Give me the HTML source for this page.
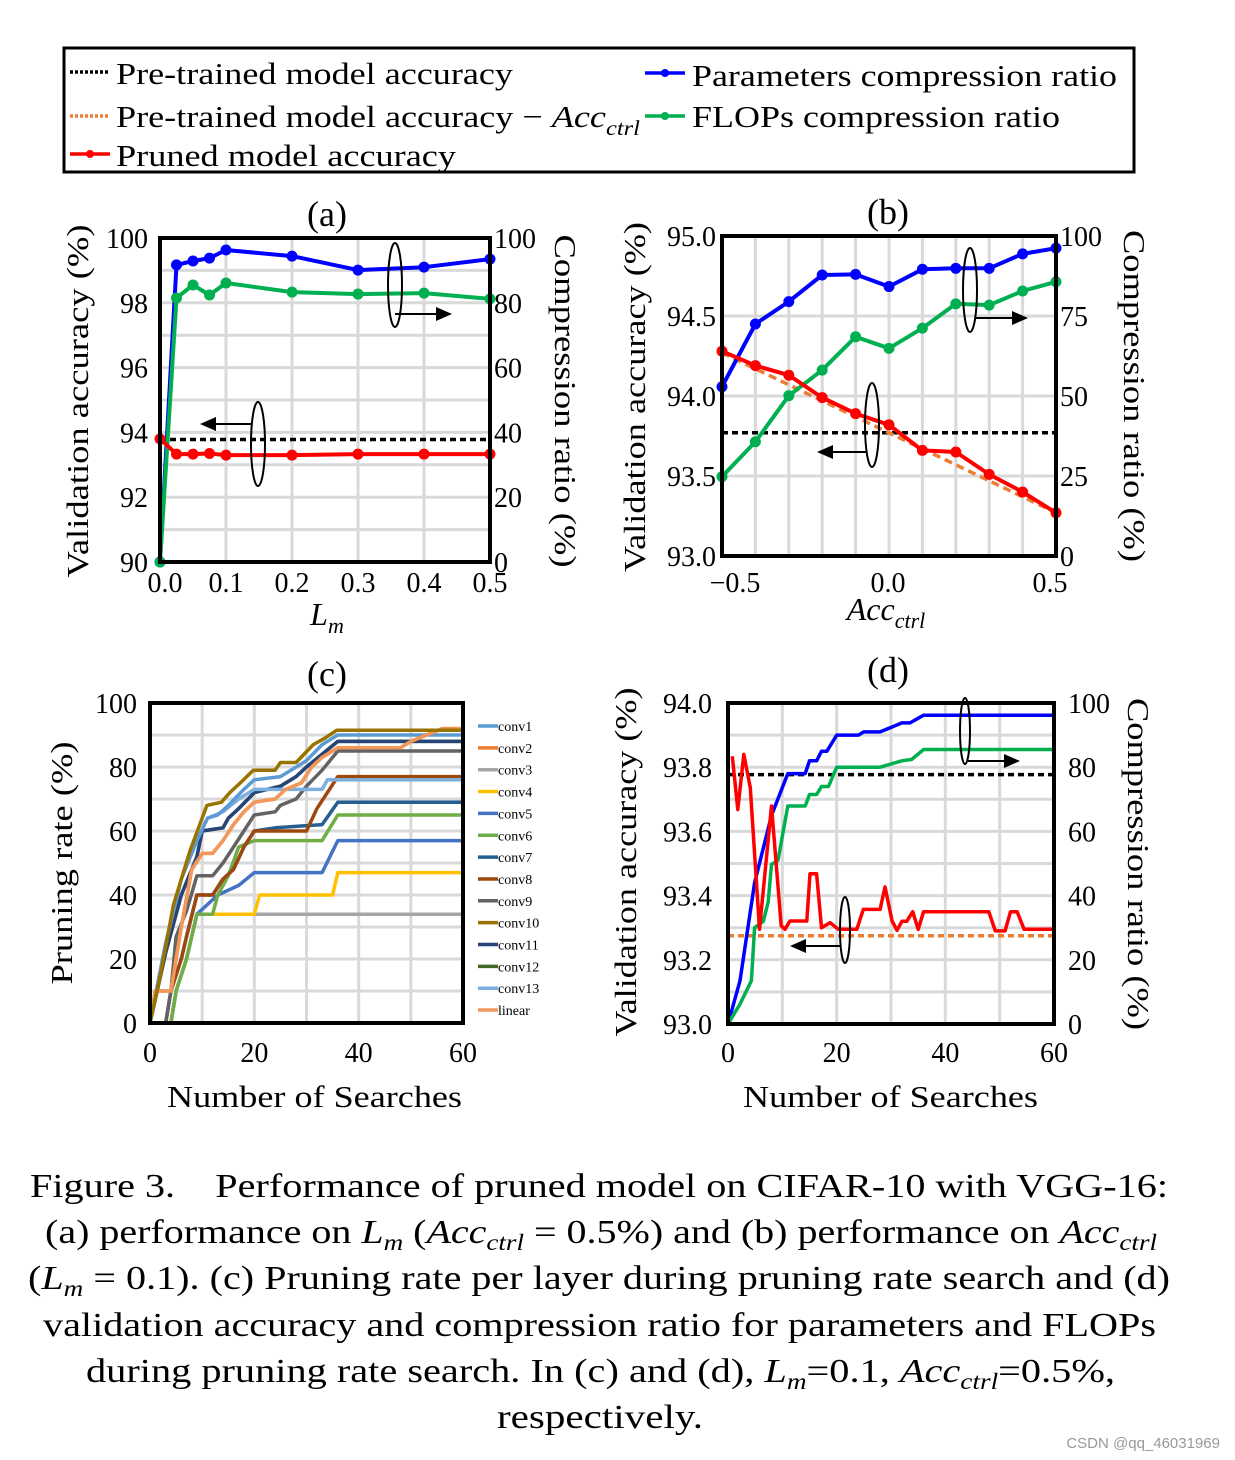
<!DOCTYPE html>
<html><head><meta charset="utf-8"><style>
html,body{margin:0;padding:0;background:#fff;}
svg{display:block;font-family:"Liberation Serif",serif;}
</style></head><body>
<svg id="fig" width="1235" height="1460" viewBox="0 0 1235 1460" xmlns="http://www.w3.org/2000/svg">
<g>
<rect x="64" y="48" width="1070" height="124" fill="#fff" stroke="#000" stroke-width="3"/>
<line x1="70" y1="72" x2="110" y2="72" stroke="#000" stroke-width="3.5" stroke-dasharray="3,2"/>
<text x="116" y="84" font-size="31" textLength="397" lengthAdjust="spacingAndGlyphs">Pre-trained model accuracy</text>
<line x1="70" y1="116" x2="110" y2="116" stroke="#ed7d31" stroke-width="3.5" stroke-dasharray="3,2"/>
<text x="116" y="127" font-size="31" textLength="524" lengthAdjust="spacingAndGlyphs">Pre-trained model accuracy − <tspan font-style="italic">Acc</tspan><tspan font-style="italic" font-size="21" dy="8">ctrl</tspan></text>
<line x1="70" y1="154" x2="110" y2="154" stroke="#f00" stroke-width="3.5"/><circle cx="90" cy="154" r="4" fill="#f00"/>
<text x="116" y="166" font-size="31" textLength="340" lengthAdjust="spacingAndGlyphs">Pruned model accuracy</text>
<line x1="645" y1="73" x2="685" y2="73" stroke="#00f" stroke-width="3.5"/><circle cx="665" cy="73" r="4" fill="#00f"/>
<text x="692" y="86" font-size="31" textLength="425" lengthAdjust="spacingAndGlyphs">Parameters compression ratio</text>
<line x1="645" y1="116" x2="685" y2="116" stroke="#00b050" stroke-width="3.5"/><circle cx="665" cy="116" r="4" fill="#00b050"/>
<text x="692" y="127" font-size="31" textLength="368" lengthAdjust="spacingAndGlyphs">FLOPs compression ratio</text>
</g>
<g id="ga"></g>
<g id="gb"></g>
<g id="gc"></g>
<g id="gd"></g>
<g font-size="34">
<text x="30" y="1197" textLength="1138" lengthAdjust="spacingAndGlyphs">Figure 3.&#160;&#160;&#160;&#160;Performance of pruned model on CIFAR-10 with VGG-16:</text>
<text x="45" y="1243" textLength="1112" lengthAdjust="spacingAndGlyphs">(a) performance on <tspan font-style="italic">L</tspan><tspan font-style="italic" font-size="23" dy="7">m</tspan><tspan dy="-7"> (</tspan><tspan font-style="italic">Acc</tspan><tspan font-style="italic" font-size="23" dy="7">ctrl</tspan><tspan dy="-7"> = 0.5%) and (b) performance on </tspan><tspan font-style="italic">Acc</tspan><tspan font-style="italic" font-size="23" dy="7">ctrl</tspan></text>
<text x="28" y="1289" textLength="1142" lengthAdjust="spacingAndGlyphs">(<tspan font-style="italic">L</tspan><tspan font-style="italic" font-size="23" dy="7">m</tspan><tspan dy="-7"> = 0.1). (c) Pruning rate per layer during pruning rate search and (d)</tspan></text>
<text x="43" y="1336" textLength="1113" lengthAdjust="spacingAndGlyphs">validation accuracy and compression ratio for parameters and FLOPs</text>
<text x="86" y="1382" textLength="1029" lengthAdjust="spacingAndGlyphs">during pruning rate search. In (c) and (d), <tspan font-style="italic">L</tspan><tspan font-style="italic" font-size="23" dy="7">m</tspan><tspan dy="-7">=0.1, </tspan><tspan font-style="italic">Acc</tspan><tspan font-style="italic" font-size="23" dy="7">ctrl</tspan><tspan dy="-7">=0.5%,</tspan></text>
<text x="497" y="1428" textLength="206" lengthAdjust="spacingAndGlyphs">respectively.</text>
</g>
<text x="1220" y="1448" font-size="15" fill="#999" text-anchor="end" font-family="Liberation Sans,sans-serif">CSDN @qq_46031969</text>
</svg>
<script>
// ---------- data ----------
const aX=[0,0.025,0.05,0.075,0.1,0.2,0.3,0.4,0.5];
const aParams=[0,91.7,92.9,93.8,96.3,94.4,90.1,91,93.5];
const aFlops=[0,81.5,85.5,82.4,86.1,83.3,82.7,83,81.2];
const aPruned=[93.8,93.33,93.33,93.35,93.3,93.3,93.33,93.33,93.33];
const aPre=93.78;
const bX=[-0.5,-0.4,-0.3,-0.2,-0.1,0,0.1,0.2,0.3,0.4,0.5];
const bParams=[52.9,72.5,79.5,87.8,88.0,84.2,89.6,89.9,89.9,94.4,96.2];
const bFlops=[24.8,35.7,50.1,58.1,68.5,64.9,71.2,78.8,78.4,82.8,85.7];
const bPruned=[94.28,94.19,94.13,93.99,93.89,93.82,93.66,93.65,93.51,93.40,93.27];
const bPre=93.77;
const cNames=["conv1","conv2","conv3","conv4","conv5","conv6","conv7","conv8","conv9","conv10","conv11","conv12","conv13","linear"];
const cColors=["#5b9bd5","#ed7d31","#a5a5a5","#ffc000","#4472c4","#70ad47","#255e91","#9e480e","#636363","#997300","#264478","#43682b","#7cafdd","#f1975a"];
const cX=[
[0,3,6,9,11,13,15,18,20,25,27,30,33,36,60],
[0,1,4,6,8,10,12,14,16,18,20,24,26,29,31,33,36,48,50,53,56,60],
[0,4,5,7,9,12,60],
[0,4,5,7,9,12,20,21,35,36,60],
[0,4,5,7,9,13,17,20,33,36,60],
[0,4,5,7,9,12,13,15,17,20,33,36,60],
[0,3,4,6,7,9,12,14,16,18,20,24,33,36,60],
[0,3,4,6,7,9,12,14,16,18,20,30,32,34,36,60],
[0,3,4,5,7,9,12,14,16,18,20,24,25,28,30,33,36,60],
[0,2,4.5,7.7,10.9,13.7,15.3,17.3,19.8,24,25,28,31.3,33.5,35.8,60],
[0,3,6,9,10,14,15,17,20,25,28,30,33,36,60],
[0,3,6,9,10,14,15,17,20,25,28,30,33,36,60],
[0,3,6,9,11,14,17,20,33,34,60],
[0,1,4,6,8,10,12,14,16,18,20,24,26,29,31,33,36,48,50,53,56,60]];
const cY=[
[0,25,45,57,64,65,68,73,76,77,79,82,87,90,90],
[0,10,10,30,48,53,53,57,62,66,69,70,73,75,80,83,86,86,88,90,92,92],
[0,0,10,20,34,34,34],
[0,0,10,20,34,34,34,40,40,47,47],
[0,0,10,20,34,40,43,47,47,57,57],
[0,0,10,20,34,34,40,46,55,57,57,65,65],
[0,0,10,20,27,40,40,45,48,55,60,61,62,69,69],
[0,0,10,20,27,40,40,45,48,55,60,60,67,72,77,77],
[0,0,10,27,35,46,46,50,55,60,65,66,68,70,74,79,85,85],
[0,15,37,54,68,69,72,75,79,79,81.4,81.4,87,89,91.5,91.5],
[0,22,40,52,60,61,64,67,72,74,77,80,84,88,88],
[0,22,40,52,60,61,64,67,72,74,77,80,84,88,88],
[0,25,45,57,64,66,70,73,73,76,76],
[0,10,10,30,48,53,53,57,62,66,69,70,73,75,80,83,86,86,88,90,92,92]];
const dParamsX=[0,2.2,4.9,8,11,14.2,15,16.3,17.2,18.2,20,24,25,28,32,33.5,36,60];
const dParamsY=[0,13.5,44,65,78,78,82,82,85,85,90,90,91,91,93.8,93.8,96.2,96.2];
const dFlopsX=[0,2.2,4.3,4.9,6.5,7.4,8,9.2,11,14.2,15,16.3,17.2,18.5,20,28,32,33.8,36,60];
const dFlopsY=[0,6.2,13.5,30,32,38,49.7,51,67.9,67.9,71.5,71.5,74,74,80,80,82,82.4,85.5,85.5];
const dAccX=[0.8,1.8,2.9,4.1,5.8,8,9.8,10.5,11.4,14.5,15.1,16.3,17.2,18.8,20.3,23.7,24.9,28,28.9,30.2,31.1,32,32.9,34,35,36,48,49.2,51,52,53.2,54.5,60];
const dAccY=[93.834,93.668,93.84,93.736,93.295,93.679,93.306,93.295,93.321,93.321,93.468,93.468,93.30,93.316,93.295,93.295,93.357,93.357,93.427,93.321,93.292,93.32,93.32,93.35,93.295,93.35,93.35,93.29,93.29,93.35,93.35,93.295,93.295];
const dPre=93.777, dCtrl=93.275;

// ---------- helpers ----------
const NS="http://www.w3.org/2000/svg";
function mk(parent,tag,attrs,text){const e=document.createElementNS(NS,tag);for(const k in attrs)e.setAttribute(k,attrs[k]);if(text!==undefined)e.textContent=text;parent.appendChild(e);return e;}
function lin(d0,d1,p0,p1){return v=>p0+(v-d0)/(d1-d0)*(p1-p0);}
function pathD(xs,ys,fx,fy){return xs.map((x,i)=>(i?"L":"M")+fx(x).toFixed(1)+","+fy(ys[i]).toFixed(1)).join("");}
function grid(g,x0,x1,y0,y1,vx,hy){
  vx.forEach(x=>{const l=mk(g,"line",{x1:x,x2:x,y1:y0,y2:y1,stroke:"#d9d9d9","stroke-width":3});
  
  });
  hy.forEach(y=>{const l=mk(g,"line",{x1:x0,x2:x1,y1:y,y2:y,stroke:"#d9d9d9","stroke-width":3});
  
  });
}
function frame(g,x0,y0,x1,y1){const r=mk(g,"rect",{x:x0,y:y0,width:x1-x0,height:y1-y0,fill:"none",stroke:"#000","stroke-width":4});

}
function series(g,xs,ys,fx,fy,color,w,markers,name,dash){
  const p=mk(g,"path",{d:pathD(xs,ys,fx,fy),fill:"none",stroke:color,"stroke-width":w,"stroke-linejoin":"round"});
  if(dash)p.setAttribute("stroke-dasharray",dash);
  
  
  if(markers)xs.forEach((x,i)=>{const c=mk(g,"circle",{cx:fx(x),cy:fy(ys[i]),r:5.5,fill:color});
  
  });
}
function txt(g,x,y,s,size,anchor,name){const t=mk(g,"text",{x:x,y:y,"font-size":size,"text-anchor":anchor||"middle"},s);

return t;}
function rot(g,x,y,s,size,angle,name,len){const t=mk(g,"text",{x:0,y:0,"font-size":size,"text-anchor":"middle",transform:`translate(${x},${y}) rotate(${angle})`},s);
if(len){t.setAttribute("textLength",len);t.setAttribute("lengthAdjust","spacingAndGlyphs");}

}
function ann(g,cx,cy,rx,ry,ax1,ax2,ay){
  const e=mk(g,"ellipse",{cx:cx,cy:cy,rx:rx,ry:ry,fill:"none",stroke:"#000","stroke-width":2});
  
  
  const dir=ax2>ax1?1:-1;
  const l=mk(g,"line",{x1:ax1,y1:ay,x2:ax2-dir*14,y2:ay,stroke:"#000","stroke-width":2});
  
  
  const h=mk(g,"polygon",{points:`${ax2},${ay} ${ax2-dir*16},${ay-7} ${ax2-dir*16},${ay+7}`,fill:"#000"});
  
  
}

// ---------- panel a ----------
(function(){
const g=document.getElementById("ga");
const X0=160,X1=490,Y0=238,Y1=562;
const fx=lin(0,0.5,X0,X1), fl=lin(90,100,Y1,Y0), fr=lin(0,100,Y1,Y0);
grid(g,X0,X1,Y0,Y1,[0.1,0.2,0.3,0.4].map(fx),[91,92,93,94,95,96,97,98,99].map(fl));
series(g,[0,0.5],[aPre,aPre],fx,fl,"#000",3.5,false,"pretrained-accuracy-line","6,4");
series(g,aX,aParams,fx,fr,"#0000ff",4,true,"params-compression-line");
series(g,aX,aFlops,fx,fr,"#00b050",4,true,"flops-compression-line");
series(g,aX,aPruned,fx,fl,"#ff0000",4,true,"pruned-accuracy-line");
frame(g,X0,Y0,X1,Y1);
ann(g,395,285,7,42,395,452,314);ann(g,258,444,7,42,252,200,424);
txt(g,327,226,"(a)",36,"middle","panel-a-title");
[90,92,94,96,98,100].forEach(v=>txt(g,148,fl(v)+10,String(v),28,"end","y-tick-left"));
[0,20,40,60,80,100].forEach(v=>txt(g,494,fr(v)+10,String(v),28,"start","y-tick-right"));
["0.0","0.1","0.2","0.3","0.4","0.5"].forEach((s,i)=>txt(g,fx(i*0.1)+(i==0?5:0),592,s,28,"middle","x-tick"));
const t=txt(g,327,625,"",32,"middle","x-axis-title");
mk(t,"tspan",{"font-style":"italic"},"L");mk(t,"tspan",{"font-style":"italic","font-size":22,dy:8},"m");
rot(g,88,401,"Validation accuracy (%)",31,-90,"y-axis-title-left",353);
rot(g,555,401,"Compression ratio (%)",31,90,"y-axis-title-right",333);
})();

// ---------- panel b ----------
(function(){
const g=document.getElementById("gb");
const X0=722,X1=1056,Y0=236,Y1=556;
const fx=lin(-0.5,0.5,X0,X1), fl=lin(93,95,Y1,Y0), fr=lin(0,100,Y1,Y0);
grid(g,X0,X1,Y0,Y1,[-0.4,-0.3,-0.2,-0.1,0,0.1,0.2,0.3,0.4].map(fx),[93.5,94,94.5].map(fl));
series(g,[-0.5,0.5],[bPre,bPre],fx,fl,"#000",3.5,false,"pretrained-accuracy-line","6,4");
series(g,[-0.5,0.5],[bPre+0.5,bPre-0.5],fx,fl,"#ed7d31",3.5,false,"pretrained-minus-ctrl-line","8,5");
series(g,bX,bParams,fx,fr,"#0000ff",4,true,"params-compression-line");
series(g,bX,bFlops,fx,fr,"#00b050",4,true,"flops-compression-line");
series(g,bX,bPruned,fx,fl,"#ff0000",4,true,"pruned-accuracy-line");
frame(g,X0,Y0,X1,Y1);
ann(g,970,290,7,42,975,1028,318);ann(g,872,425,7,42,867,817,452);
txt(g,888,224,"(b)",36,"middle","panel-b-title");
["93.0","93.5","94.0","94.5","95.0"].forEach((s,i)=>txt(g,716,fl(93+i*0.5)+10,s,28,"end","y-tick-left"));
[0,25,50,75,100].forEach(v=>txt(g,1060,fr(v)+10,String(v),28,"start","y-tick-right"));
txt(g,735,592,"−0.5",28,"middle","x-tick");txt(g,888,592,"0.0",28,"middle","x-tick");txt(g,1050,592,"0.5",28,"middle","x-tick");
const t=txt(g,886,620,"",32,"middle","x-axis-title");
mk(t,"tspan",{"font-style":"italic"},"Acc");mk(t,"tspan",{"font-style":"italic","font-size":22,dy:8},"ctrl");
rot(g,645,397,"Validation accuracy (%)",31,-90,"y-axis-title-left",350);
rot(g,1124,396,"Compression ratio (%)",31,90,"y-axis-title-right",332);
})();

// ---------- panel c ----------
(function(){
const g=document.getElementById("gc");
const X0=150,X1=463,Y0=703,Y1=1023;
const fx=lin(0,60,X0,X1), fy=lin(0,100,Y1,Y0);
grid(g,X0,X1,Y0,Y1,[10,20,30,40,50].map(fx),[10,20,30,40,50,60,70,80,90].map(fy));
const order=[2,3,4,5,6,7,8,11,10,12,0,1,13,9];
order.forEach(i=>series(g,cX[i],cY[i],fx,fy,cColors[i],3.5,false,"pruning-line-"+cNames[i]));
frame(g,X0,Y0,X1,Y1);
txt(g,327,686,"(c)",36,"middle","panel-c-title");
[0,20,40,60,80,100].forEach(v=>txt(g,137,fy(v)+10,String(v),28,"end","y-tick"));
[0,20,40,60].forEach(v=>txt(g,fx(v),1062,String(v),28,"middle","x-tick"));
const xt=txt(g,167,1107,"Number of Searches",31,"start","x-axis-title");
xt.setAttribute("textLength",295);xt.setAttribute("lengthAdjust","spacingAndGlyphs");
rot(g,72,863,"Pruning rate (%)",31,-90,"y-axis-title",243);
cNames.forEach((n,i)=>{const y=726+21.85*i;
  const l=mk(g,"line",{x1:478,x2:498,y1:y,y2:y,stroke:cColors[i],"stroke-width":3.5});
  
  
  txt(g,498,y+5,n,14,"start","legend-label-"+n);});
})();

// ---------- panel d ----------
(function(){
const g=document.getElementById("gd");
const X0=728,X1=1054,Y0=703,Y1=1024;
const fx=lin(0,60,X0,X1), fl=lin(93,94,Y1,Y0), fr=lin(0,100,Y1,Y0);
grid(g,X0,X1,Y0,Y1,[10,20,30,40,50].map(fx),[10,20,30,40,50,60,70,80,90].map(fr));
series(g,[0,60],[dPre,dPre],fx,fl,"#000",3.5,false,"pretrained-accuracy-line","6,4");
series(g,[0,60],[dCtrl,dCtrl],fx,fl,"#ed7d31",3.5,false,"pretrained-minus-ctrl-line","6,4");
series(g,dParamsX,dParamsY,fx,fr,"#0000ff",3.5,false,"params-compression-line");
series(g,dFlopsX,dFlopsY,fx,fr,"#00b050",3.5,false,"flops-compression-line");
series(g,dAccX,dAccY,fx,fl,"#ff0000",3.5,false,"pruned-accuracy-line");
frame(g,X0,Y0,X1,Y1);
ann(g,965,731,5,33,968,1020,761);ann(g,845,930,5,33,840,790,946);
txt(g,888,682,"(d)",36,"middle","panel-d-title");
["93.0","93.2","93.4","93.6","93.8","94.0"].forEach((s,i)=>txt(g,712,fl(93+i*0.2)+10,s,28,"end","y-tick-left"));
[0,20,40,60,80,100].forEach(v=>txt(g,1068,fr(v)+10,String(v),28,"start","y-tick-right"));
[0,20,40,60].forEach(v=>txt(g,fx(v),1062,String(v),28,"middle","x-tick"));
const xt=txt(g,743,1107,"Number of Searches",31,"start","x-axis-title");
xt.setAttribute("textLength",295);xt.setAttribute("lengthAdjust","spacingAndGlyphs");
rot(g,636,862,"Validation accuracy (%)",31,-90,"y-axis-title-left",349);
rot(g,1128,864,"Compression ratio (%)",31,90,"y-axis-title-right",332);
})();
</script>
</body></html>
